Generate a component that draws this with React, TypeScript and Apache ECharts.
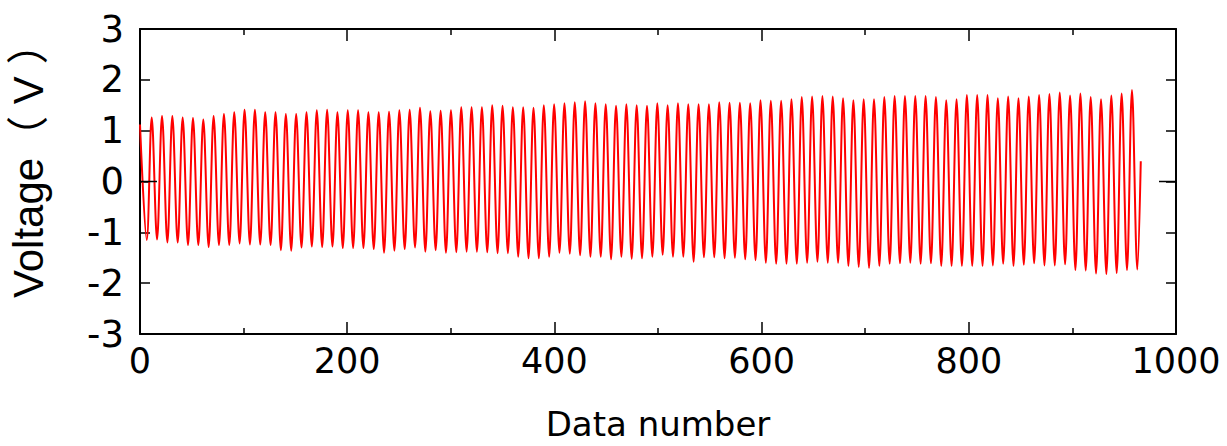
import React, { useEffect, useRef } from "react";
import * as echarts from "echarts";

// Peak voltages per cycle
const peaks: number[] = [
  1.26, 1.29, 1.29, 1.26, 1.25, 1.22, 1.29, 1.33, 1.36, 1.41, 1.41, 1.36, 1.36, 1.33, 1.33, 1.36, 1.40, 1.41, 1.36, 1.40, 1.40, 1.36, 1.36,
  1.37, 1.40, 1.41, 1.45, 1.38, 1.39, 1.40, 1.46, 1.46, 1.46, 1.50, 1.49, 1.46, 1.46, 1.45, 1.50, 1.52, 1.54, 1.56, 1.58, 1.54, 1.52,
  1.49, 1.52, 1.50, 1.49, 1.54, 1.50, 1.54, 1.52, 1.52, 1.52, 1.56, 1.55, 1.55, 1.54, 1.60, 1.59, 1.59, 1.62, 1.66, 1.67, 1.68, 1.67, 1.64,
  1.60, 1.62, 1.62, 1.66, 1.68, 1.68, 1.68, 1.68, 1.66, 1.60, 1.62, 1.70, 1.70, 1.70, 1.64, 1.67, 1.64, 1.67, 1.70, 1.72, 1.75, 1.69, 1.73, 1.66, 1.62, 1.69, 1.73, 1.80,
];

// Trough voltages per cycle
const troughs: number[] = [
  -1.15, -1.14, -1.20, -1.20, -1.25, -1.25, -1.29, -1.25, -1.25, -1.22, -1.24, -1.24, -1.25, -1.35, -1.36, -1.30, -1.28, -1.29, -1.28, -1.31, -1.31, -1.31, -1.33,
  -1.40, -1.36, -1.33, -1.30, -1.38, -1.35, -1.40, -1.39, -1.38, -1.38, -1.39, -1.41, -1.41, -1.48, -1.51, -1.51, -1.48, -1.40, -1.42, -1.45, -1.48, -1.48, -1.53,
  -1.48, -1.52, -1.51, -1.48, -1.44, -1.48, -1.48, -1.58, -1.49, -1.49, -1.51, -1.50, -1.53, -1.55, -1.60, -1.62, -1.62, -1.62, -1.60, -1.58, -1.60, -1.60, -1.66, -1.68,
  -1.70, -1.66, -1.62, -1.61, -1.60, -1.62, -1.61, -1.66, -1.66, -1.66, -1.66, -1.66, -1.65, -1.62, -1.66, -1.64, -1.61, -1.65, -1.65, -1.63, -1.74, -1.75, -1.81, -1.82, -1.80, -1.74, -1.73,
];

// Data-number positions of the extrema
const firstTroughAt = 6.5;
const firstPeakAt = 11.3;
const samplesPerCycle = 9.96;
const startPoint: [number, number] = [0, 1.12];
const endPoint: [number, number] = [966, 0.4];

const xTicks = [0, 200, 400, 600, 800, 1000];
const yTicks = [-3, -2, -1, 0, 1, 2, 3];

function buildSeries(): [number, number][] {
  const pts: [number, number][] = [startPoint];
  for (let k = 0; k < troughs.length; k++) {
    pts.push([firstTroughAt + k * samplesPerCycle, troughs[k]]);
    if (k < peaks.length) pts.push([firstPeakAt + k * samplesPerCycle, peaks[k]]);
  }
  pts.push(endPoint);
  return pts;
}

export default function App() {
  const ref = useRef<HTMLDivElement>(null);
  useEffect(() => {
    if (!ref.current) return;
    const chart = echarts.init(ref.current, undefined, { renderer: "svg" });
    const axisLine = { show: true, onZero: false, lineStyle: { color: "#000", width: 2 } };
    const tickFont = { fontFamily: "DejaVu Sans", color: "#000" };
    const xCommon = {
      type: "value" as const,
      min: xTicks[0],
      max: xTicks[xTicks.length - 1],
      interval: 200,
      axisLine,
      splitLine: { show: false },
      axisTick: { show: true, inside: true, length: 12, lineStyle: { color: "#000", width: 1.5 } },
      minorTick: { show: true, splitNumber: 2, length: 6, lineStyle: { color: "#000", width: 1.5 } },
      minorSplitLine: { show: false },
    };
    const yCommon = {
      type: "value" as const,
      min: yTicks[0],
      max: yTicks[yTicks.length - 1],
      interval: 1,
      axisLine,
      splitLine: { show: false },
      axisTick: { show: true, inside: true, length: 10, lineStyle: { color: "#000", width: 1.5 } },
    };
    chart.setOption({
      animation: false,
      backgroundColor: "#fff",
      grid: { left: 140, right: 51, top: 29, bottom: 112, containLabel: false, outerBoundsMode: "none" },
      xAxis: [
        {
          ...xCommon,
          position: "bottom",
          axisLabel: { ...tickFont, fontSize: 35, margin: 9, formatter: (v: number) => String(v) },
          name: "Data number",
          nameLocation: "middle",
          nameGap: 78,
          nameTextStyle: { fontFamily: "DejaVu Sans", fontSize: 34, lineHeight: 24, color: "#000" },
        },
        { ...xCommon, position: "top", axisLabel: { show: false } },
      ],
      yAxis: [
        { ...yCommon, position: "left", axisLabel: { ...tickFont, fontSize: 37, margin: 16, formatter: (v: number) => String(v) } },
        { ...yCommon, position: "right", axisLabel: { show: false } },
      ],
      series: [
        {
          type: "line",
          xAxisIndex: 0,
          yAxisIndex: 0,
          data: buildSeries(),
          showSymbol: false,
          smooth: 0.35,
          lineStyle: { color: "#ff0000", width: 2 },
          z: 1,
        },
      ],
    });
    const p0 = chart.convertToPixel({ xAxisIndex: 0, yAxisIndex: 0 }, [xTicks[0], 0]) as number[];
    const p1 = chart.convertToPixel({ xAxisIndex: 0, yAxisIndex: 0 }, [xTicks[xTicks.length - 1], 0]) as number[];
    chart.setOption({
      graphic: [
        { type: "line", shape: { x1: p0[0], y1: p0[1], x2: p0[0] + 17, y2: p0[1] }, style: { stroke: "#000", lineWidth: 1.5 }, z: 10 },
        { type: "line", shape: { x1: p1[0] - 17, y1: p1[1], x2: p1[0], y2: p1[1] }, style: { stroke: "#000", lineWidth: 1.5 }, z: 10 },
        {
          type: "text",
          x: 28,
          y: 298,
          rotation: Math.PI / 2,
          style: {
            text: "Voltage（ V ）",
            fontSize: 42,
            fontFamily: "Liberation Sans, Noto Sans CJK SC",
            fill: "#000",
            align: "left",
            verticalAlign: "middle",
          },
        },
      ],
    });
    return () => chart.dispose();
  }, []);
  return <div ref={ref} style={{ position: "absolute", left: 0, top: 0, width: 1227, height: 446 }} />;
}
